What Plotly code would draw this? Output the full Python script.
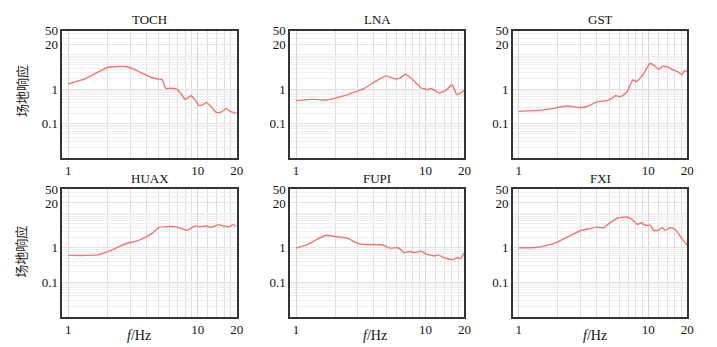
import plotly.graph_objects as go
import math

stations = ["TOCH", "LNA", "GST", "HUAX", "FUPI", "FXI"]

toch_f = [1.0, 1.36, 1.72, 2.04, 2.4, 2.8, 3.3, 3.8, 4.35, 4.9, 5.3, 5.65, 6.2, 6.9, 7.4, 8.0, 8.9, 9.5, 10.2, 11.0, 11.6, 12.6, 13.9, 15.0, 16.6, 18.0, 20.0]
toch_v = [1.4, 2.0, 3.2, 4.3, 4.5, 4.5, 3.6, 2.8, 2.2, 1.95, 1.9, 1.05, 1.05, 1.0, 0.75, 0.5, 0.64, 0.5, 0.33, 0.35, 0.41, 0.32, 0.21, 0.21, 0.27, 0.22, 0.2]

lna_f = [1.0, 1.35, 1.71, 2.16, 2.73, 3.34, 3.98, 4.94, 5.8, 6.35, 7.0, 8.0, 9.3, 10.4, 11.0, 12.8, 14.3, 16.1, 17.4, 18.5, 20.0]
lna_v = [0.46, 0.5, 0.48, 0.58, 0.77, 1.02, 1.55, 2.4, 1.97, 2.06, 2.68, 1.85, 1.07, 0.96, 1.04, 0.77, 0.9, 1.33, 0.69, 0.75, 0.92]

gst_f = [1.0, 1.42, 1.79, 2.33, 2.94, 3.3, 4.06, 4.82, 5.27, 5.58, 6.1, 6.85, 7.6, 8.15, 9.15, 10.3, 11.2, 12.1, 12.9, 14.3, 15.5, 16.9, 18.2, 19.0, 20.0]
gst_v = [0.225, 0.24, 0.27, 0.32, 0.29, 0.3, 0.43, 0.46, 0.55, 0.64, 0.6, 0.82, 1.85, 1.65, 2.7, 5.5, 4.7, 3.7, 4.6, 4.3, 3.6, 3.2, 2.6, 3.4, 3.2]

huax_f = [1.0, 1.36, 1.72, 2.04, 2.43, 2.81, 3.35, 3.87, 4.48, 5.03, 5.82, 6.54, 7.35, 8.15, 8.75, 9.55, 10.4, 11.7, 12.8, 14.4, 15.6, 17.6, 18.7, 20.0]
huax_v = [0.6, 0.6, 0.63, 0.78, 1.05, 1.33, 1.55, 1.93, 2.7, 3.9, 4.1, 4.1, 3.7, 3.2, 3.6, 4.3, 4.1, 4.3, 3.9, 4.7, 4.3, 4.1, 4.7, 4.2]

fupi_f = [1.0, 1.24, 1.44, 1.71, 2.03, 2.5, 2.8, 3.15, 3.87, 4.6, 5.33, 6.16, 6.93, 7.6, 8.25, 9.25, 10.1, 11.7, 12.6, 13.5, 14.8, 16.1, 17.6, 18.6, 20.0]
fupi_v = [0.98, 1.25, 1.73, 2.3, 2.1, 1.9, 1.5, 1.27, 1.24, 1.22, 0.98, 1.0, 0.72, 0.79, 0.72, 0.8, 0.66, 0.58, 0.62, 0.54, 0.48, 0.45, 0.52, 0.48, 0.72]

fxi_f = [1.0, 1.34, 1.68, 2.0, 2.45, 3.0, 3.58, 4.0, 4.5, 5.06, 5.83, 6.74, 7.36, 8.26, 8.76, 9.54, 10.4, 11.0, 11.9, 12.75, 13.5, 14.7, 15.8, 17.0, 18.0, 20.0]
fxi_v = [1.0, 1.02, 1.19, 1.49, 2.17, 3.17, 3.6, 3.96, 3.8, 5.3, 7.3, 7.8, 7.0, 4.75, 5.3, 4.5, 4.5, 3.2, 3.2, 3.8, 3.2, 3.8, 3.6, 2.7, 1.94, 1.2]

x_ticks = [1, 10, 20]
y_ticks = [0.1, 1, 20, 50]
y_ticktext = ["0.1", "1", "20", "50"]
y_label = "场地响应"
x_label = "<i>f</i>/Hz"

series = [(toch_f, toch_v), (lna_f, lna_v), (gst_f, gst_v),
          (huax_f, huax_v), (fupi_f, fupi_v), (fxi_f, fxi_v)]

W, H = 717, 347
col_px = [(63, 239), (293, 469), (518, 694)]
row_px = [(24, 154), (186, 316)]
xlabel_cx = [140, 379, 601]

SERIF = "Liberation Serif, Times New Roman, serif"
fig = go.Figure()
layout = dict(width=W, height=H, margin=dict(l=0, r=0, t=0, b=0),
              paper_bgcolor="white", plot_bgcolor="white", showlegend=False)
annotations = []

for i, (name, (fx, fv)) in enumerate(zip(stations, series)):
    r, c = divmod(i, 3)
    idx = "" if i == 0 else str(i + 1)
    xa, ya = "x" + idx, "y" + idx
    fig.add_trace(go.Scatter(x=fx, y=fv, mode="lines", xaxis=xa, yaxis=ya,
                             line=dict(color="#f27373", width=1.4, shape="spline", smoothing=0.4),
                             hoverinfo="skip"))
    x0, x1 = col_px[c]
    t0, t1 = row_px[r]
    xdom = [x0 / W, x1 / W]
    ydom = [1 - t1 / H, 1 - t0 / H]
    layout["xaxis" + idx] = dict(
        domain=xdom, anchor=ya, type="log",
        range=[math.log10(0.9), math.log10(20)],
        tickvals=x_ticks, ticktext=[str(t) for t in x_ticks],
        ticks="", showgrid=True, gridcolor="#d6d6d6", gridwidth=1,
        minor=dict(tickvals=[2, 3, 4, 5, 6, 7, 8, 9, 12, 14, 16, 18],
                   showgrid=True, gridcolor="#dedede", gridwidth=1, ticks=""),
        showline=True, linecolor="#333333", linewidth=1.5, mirror=True,
        tickfont=dict(family=SERIF, size=13, color="#111"),
        zeroline=False, fixedrange=True)
    layout["yaxis" + idx] = dict(
        domain=ydom, anchor=xa, type="log",
        range=[-2, math.log10(50)],
        tickvals=y_ticks, ticktext=y_ticktext,
        ticks="", showgrid=True, gridcolor="#e4e4e4", gridwidth=1,
        minor=dict(dtick="D1", showgrid=True, gridcolor="#eeeeee",
                   gridwidth=1, ticks=""),
        showline=True, linecolor="#333333", linewidth=1.5, mirror=True,
        tickfont=dict(family=SERIF, size=13, color="#111"),
        zeroline=False, fixedrange=True)
    annotations.append(dict(text=name, xref="paper", yref="paper",
                            x=(x0 + x1) / 2 / W, y=1 - (t0 - 11) / H,
                            xanchor="center", yanchor="middle", showarrow=False,
                            font=dict(family=SERIF, size=13, color="#111")))
    if r == 1:
        annotations.append(dict(text=x_label, xref="paper", yref="paper",
                                x=xlabel_cx[c] / W, y=1 - 335 / H,
                                xanchor="center", yanchor="middle", showarrow=False,
                                font=dict(family=SERIF, size=14, color="#111")))

for yc in [86, 250]:
    annotations.append(dict(text=y_label, xref="paper", yref="paper",
                            x=21 / W, y=1 - yc / H, textangle=-90,
                            xanchor="center", yanchor="middle", showarrow=False,
                            font=dict(family="Noto Sans CJK SC", size=13, color="#222")))

layout["annotations"] = annotations
fig.update_layout(**layout)
fig.write_html("out.html", config={"displayModeBar": False},
               post_script="document.body.style.margin='0';document.body.style.padding='0';document.body.style.overflow='hidden';")
